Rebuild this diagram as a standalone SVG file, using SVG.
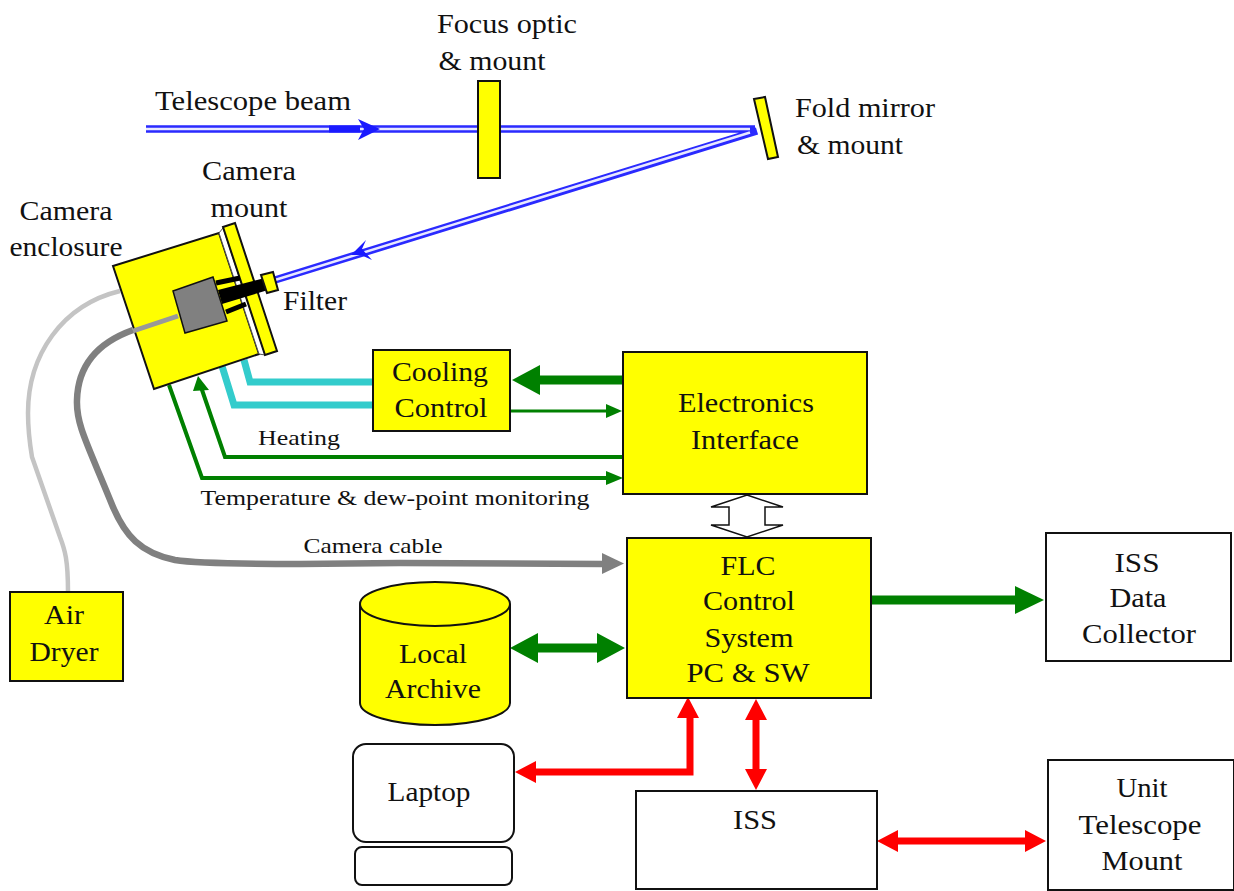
<svg xmlns="http://www.w3.org/2000/svg" width="1234" height="891" viewBox="0 0 1234 891">
<style>
text{font-family:"Liberation Serif","Times New Roman",serif;font-size:27px;fill:#111;text-anchor:middle}
text.s{font-size:21px}
.y{fill:#ff0;stroke:#111;stroke-width:2}
.w{fill:#fff;stroke:#111;stroke-width:2}
.f{fill:none}
.bb{stroke:#2a2aff;stroke-width:7.5}
.bw{stroke:#e8e8ff;stroke-width:2.5}
.g{stroke:#008000}
.r{stroke:#f00;stroke-width:7}
.gf{fill:#008000}
.rf{fill:#f00}
</style>
<rect width="1234" height="891" fill="#fff"/>
<g id="connectors">
<path class="f bb" d="M146,129H755M757,131L275,280"/>
<path class="f bw" d="M146,129H750M750,132.500L275,280"/>
<path fill="#1a1aff" d="M329,125.500H360V132.500H329Z"/>
<path fill="#1a1aff" d="M358,119L380,129L358,140L364,129Z"/>
<path fill="#1a1aff" d="M351,255L366,240L362,249L372,260L361,255Z"/>
<path class="f" stroke="#c4c4c4" stroke-width="4.500" d="M120,291C62,305 28,355 28,413C28,430 30,445 32,457L60,537C65,550 68,560 68,592"/>
<path class="f" stroke="#808080" stroke-width="6.500" d="M133,330C105,340 78,360 77,400C76,425 88,445 113,507C125,535 140,553 175,560C200,564 260,564 300,564L400,563L603,564"/>
<path fill="#808080" d="M602,553L624,563.500L602,574Z"/>
<path class="f" stroke="#33cccc" stroke-width="7" d="M244,360L250,382H372M222,366L234,405H372"/>
<path class="f g" stroke-width="9" d="M623,380H535"/>
<path class="gf" d="M512,380L540,365V395Z"/>
<path class="f g" stroke-width="3" d="M510,411H610"/>
<path class="gf" d="M622,411L606,404V418Z"/>
<path class="f g" stroke-width="4" d="M623,457H225L201,387"/>
<path class="gf" d="M198,376L209,390L193,391Z"/>
<path class="f g" stroke-width="4" d="M169,385L202,478H610"/>
<path class="gf" d="M623,478L606,471V485Z"/>
<path fill="#fff" stroke="#111" stroke-width="1.500" d="M747,495L783,507H765V525H783L747,537L711,525H729V507H711Z"/>
<path class="f g" stroke-width="9" d="M535,648H600"/>
<path class="gf" d="M510,648L538,633V663ZM625,648L597,633V663Z"/>
<path class="f g" stroke-width="9" d="M871,600H1020"/>
<path class="gf" d="M1044,600L1015,586V614Z"/>
<path class="f r" d="M530,772H690V712"/>
<path class="rf" d="M515,772L536,761V783ZM688,697L677,718H699Z"/>
<path class="f r" d="M756,715V775"/>
<path class="rf" d="M756,699L745,720H767ZM756,790L745,769H767Z"/>
<path class="f r" d="M895,841H1030"/>
<path class="rf" d="M877,841L898,830V852ZM1046,841L1025,830V852Z"/>
</g>
<g id="focus-optic"><rect class="y" x="478" y="81" width="22" height="97"/><text x="507" y="33" textLength="140" lengthAdjust="spacingAndGlyphs">Focus optic</text><text x="492" y="70" textLength="107" lengthAdjust="spacingAndGlyphs">&amp; mount</text></g>
<g id="fold-mirror"><path class="y" d="M754,99L765,97L778,157L768,159Z"/><text x="865" y="117" textLength="140" lengthAdjust="spacingAndGlyphs">Fold mirror</text><text x="850" y="154" textLength="106" lengthAdjust="spacingAndGlyphs">&amp; mount</text></g>
<text x="253" y="110" textLength="196" lengthAdjust="spacingAndGlyphs">Telescope beam</text>
<g id="camera-enclosure">
<path class="y" d="M113,266L219,233L259,354L154,389Z"/>
<path fill="#fff" stroke="#555" stroke-width="1" d="M219,233L223,228L265,355L259,354Z"/>
<path class="y" d="M223,227L235,223L277,351L265,355Z"/>
<path class="f" stroke="#000" stroke-width="5" d="M216,283L240,278M226,312L246,304"/>
<path fill="#000" d="M218,290L265,278L268,290L222,304Z"/>
<path fill="#808080" stroke="#111" stroke-width="1.500" d="M173,291L213,277L227,321L185,333Z"/>
<path class="y" stroke-width="1.500" d="M261,275L273,272L278,290L267,293Z"/>
<path class="f" stroke="#999" stroke-width="5" d="M133,331L178,316"/>
<text x="66" y="220" textLength="93" lengthAdjust="spacingAndGlyphs">Camera</text><text x="66" y="256" textLength="113" lengthAdjust="spacingAndGlyphs">enclosure</text>
<text x="249" y="180" textLength="94" lengthAdjust="spacingAndGlyphs">Camera</text><text x="249" y="217" textLength="77" lengthAdjust="spacingAndGlyphs">mount</text>
<text x="315" y="310" textLength="64" lengthAdjust="spacingAndGlyphs">Filter</text>
</g>
<g id="cooling-control"><rect class="y" x="373" y="350" width="137" height="81"/><text x="440" y="381" textLength="96" lengthAdjust="spacingAndGlyphs">Cooling</text><text x="441" y="417" textLength="93" lengthAdjust="spacingAndGlyphs">Control</text></g>
<g id="electronics-interface"><rect class="y" x="623" y="352" width="244" height="142"/><text x="746" y="412" textLength="136" lengthAdjust="spacingAndGlyphs">Electronics</text><text x="745" y="449" textLength="108" lengthAdjust="spacingAndGlyphs">Interface</text></g>
<g id="flc"><rect class="y" x="627" y="538" width="244" height="160"/><text x="748" y="575" textLength="55" lengthAdjust="spacingAndGlyphs">FLC</text><text x="749" y="610" textLength="92" lengthAdjust="spacingAndGlyphs">Control</text><text x="749" y="647" textLength="89" lengthAdjust="spacingAndGlyphs">System</text><text x="748" y="682" textLength="123" lengthAdjust="spacingAndGlyphs">PC &amp; SW</text></g>
<g id="iss-data-collector"><rect class="w" x="1046" y="533" width="185" height="128"/><text x="1137" y="572" textLength="45" lengthAdjust="spacingAndGlyphs">ISS</text><text x="1138" y="607" textLength="57" lengthAdjust="spacingAndGlyphs">Data</text><text x="1139" y="643" textLength="114" lengthAdjust="spacingAndGlyphs">Collector</text></g>
<g id="air-dryer"><rect class="y" x="10" y="592" width="113" height="89"/><text x="64" y="624" textLength="40" lengthAdjust="spacingAndGlyphs">Air</text><text x="64" y="661" textLength="69" lengthAdjust="spacingAndGlyphs">Dryer</text></g>
<g id="local-archive"><path class="y" d="M360,604V703C360,715 393,725 435,725C477,725 510,715 510,703V604"/><ellipse class="y" cx="435" cy="604" rx="75" ry="22"/><text x="433" y="663" textLength="68" lengthAdjust="spacingAndGlyphs">Local</text><text x="433" y="698" textLength="96" lengthAdjust="spacingAndGlyphs">Archive</text></g>
<g id="laptop"><rect class="w" x="353" y="744" width="161" height="98" rx="13"/><rect class="w" x="355" y="847" width="157" height="38" rx="7" stroke="#777"/><text x="429" y="801" textLength="83" lengthAdjust="spacingAndGlyphs">Laptop</text></g>
<g id="iss"><rect class="w" x="636" y="791" width="241" height="98"/><text x="755" y="829" textLength="44" lengthAdjust="spacingAndGlyphs">ISS</text></g>
<g id="unit-telescope-mount"><rect class="w" x="1048" y="760" width="186" height="130"/><text x="1142" y="797" textLength="51" lengthAdjust="spacingAndGlyphs">Unit</text><text x="1140" y="834" textLength="123" lengthAdjust="spacingAndGlyphs">Telescope</text><text x="1142" y="870" textLength="81" lengthAdjust="spacingAndGlyphs">Mount</text></g>
<text class="s" x="299" y="445" textLength="82" lengthAdjust="spacingAndGlyphs">Heating</text>
<text class="s" x="395" y="505" textLength="389" lengthAdjust="spacingAndGlyphs">Temperature &amp; dew-point monitoring</text>
<text class="s" x="373" y="553" textLength="139" lengthAdjust="spacingAndGlyphs">Camera cable</text>
</svg>
